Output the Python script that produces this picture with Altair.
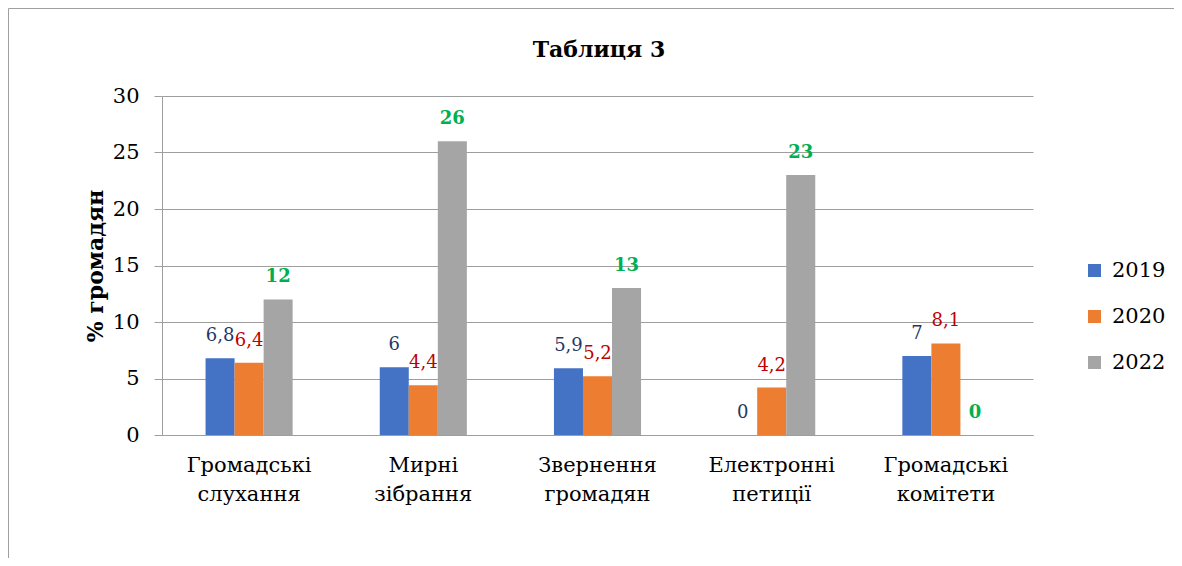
import altair as alt
import pandas as pd

categories = ["Громадські слухання", "Мирні зібрання", "Звернення громадян",
              "Електронні петиції", "Громадські комітети"]
years = ["2019", "2020", "2022"]
values_2019 = [6.8, 6.0, 5.9, 0.0, 7.0]
values_2020 = [6.4, 4.4, 5.2, 4.2, 8.1]
values_2022 = [12, 26, 13, 23, 0]
title_text = ["Таблиця 3"]

bar_colors = ["#4472C4", "#ED7D31", "#A5A5A5"]
label_colors = {"2019": "#1F3864", "2020": "#C00000", "2022": "#00B050"}
label_weights = {"2019": "normal", "2020": "normal", "2022": "bold"}
label_sizes = {"2019": 18, "2020": 18, "2022": 18}

rows = []
for y, vals in zip(years, [values_2019, values_2020, values_2022]):
    for c, v in zip(categories, vals):
        rows.append({"category": c, "year": y, "value": v})
df = pd.DataFrame(rows)

FONT = "DejaVu Serif"
GRID = "#9e9e9e"

x_enc = alt.X("category:N", sort=categories, title=None,
              scale=alt.Scale(paddingInner=0.5, paddingOuter=0.25),
              axis=alt.Axis(labelAngle=0, labelFont=FONT, labelFontSize=21,
                            labelColor="black", labelPadding=19, ticks=False,
                            domainColor=GRID, labelLineHeight=29,
                            labelExpr="split(datum.label, ' ')"))
xoff_enc = alt.XOffset("year:N", sort=years,
                       scale=alt.Scale(domain=years, paddingInner=0, paddingOuter=0))
y_enc = alt.Y("value:Q", title="% громадян",
              scale=alt.Scale(domain=[0, 30], nice=False),
              axis=alt.Axis(values=[0, 5, 10, 15, 20, 25, 30], labelFont=FONT,
                            labelFontSize=21, labelColor="black", labelPadding=15,
                            tickSize=8, tickColor=GRID, domainColor=GRID,
                            gridColor=GRID, titleFont=FONT, titleFontSize=22,
                            titleFontWeight="bold", titleColor="black",
                            titleX=-67, titleBaseline="middle"))

bars = alt.Chart(df).mark_bar().encode(
    x=x_enc, xOffset=xoff_enc, y=y_enc,
    color=alt.Color("year:N", sort=years,
                    scale=alt.Scale(domain=years, range=bar_colors),
                    legend=alt.Legend(title=None, orient="none", legendX=922,
                                      legendY=164, symbolType="square",
                                      symbolSize=169, symbolStrokeWidth=0,
                                      labelFont=FONT, labelFontSize=21,
                                      labelColor="black", labelOffset=7,
                                      rowPadding=24)),
)

text_layers = []
for y in years:
    t = alt.Chart(df).transform_filter(
        alt.datum.year == y
    ).transform_calculate(
        label="replace(toString(datum.value), '.', ',')"
    ).mark_text(font=FONT, fontSize=label_sizes[y], fontWeight=label_weights[y],
                color=label_colors[y], baseline="middle", dy=-22).encode(
        x=alt.X("category:N", sort=categories),
        xOffset=alt.XOffset("year:N", sort=years),
        y=alt.Y("value:Q"),
        text="label:N",
    )
    text_layers.append(t)

frame = alt.Chart(pd.DataFrame({"a": [0]})).mark_rect(
    fill=None, stroke="#a0a0a0", strokeWidth=1).encode(
    x=alt.value(-153.5), y=alt.value(-87.5),
    x2=alt.value(1200), y2=alt.value(600))

title = alt.Chart(pd.DataFrame({"t": title_text})).mark_text(
    font=FONT, fontSize=22, fontWeight="bold", color="black",
    align="center", baseline="alphabetic").encode(
    x=alt.value(437), y=alt.value(-39), text="t:N")

chart = alt.layer(frame, bars, *text_layers, title).properties(
    width=871, height=339,
    autosize=alt.AutoSizeParams(type="none"),
    padding={"left": 154, "top": 88, "right": 141, "bottom": 123},
).configure_view(stroke=None).configure_axis(grid=True)

chart = chart.configure_axisX(grid=False)

chart.save("out.html", embed_options={"renderer": "svg", "actions": False})
